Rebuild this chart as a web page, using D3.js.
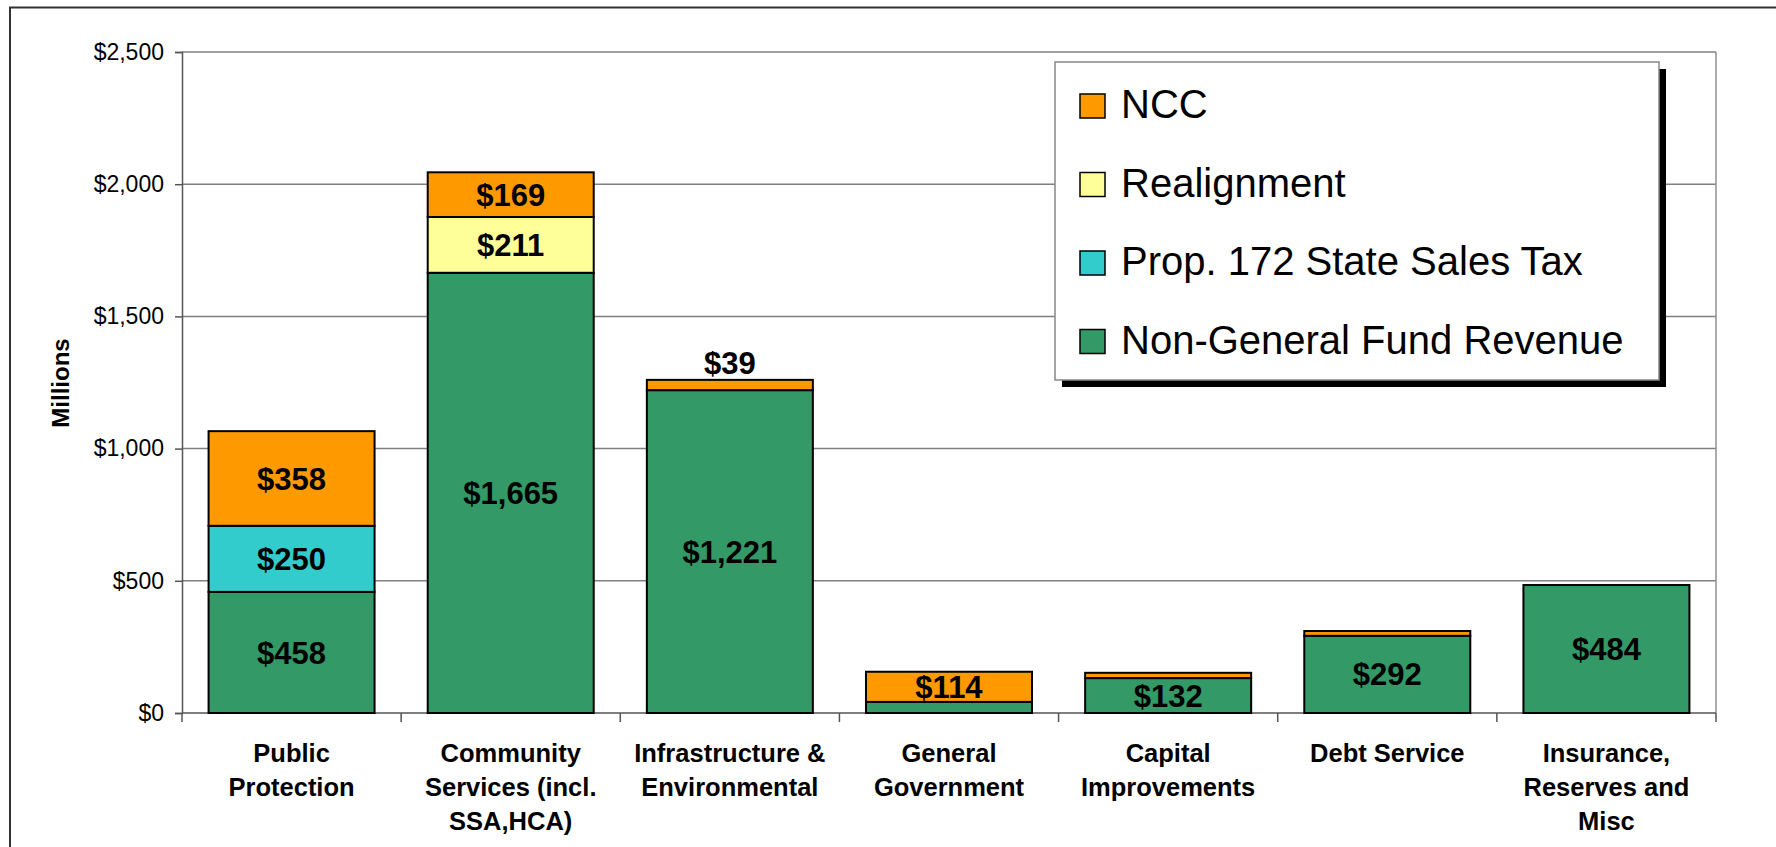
<!DOCTYPE html>
<html>
<head>
<meta charset="utf-8">
<script src="https://cdn.jsdelivr.net/npm/d3@7"></script>
<style>
  html, body { margin: 0; background: #fff; overflow: hidden; }
  svg { display: block; font-family: "Liberation Sans", Arial, sans-serif; }
</style>
</head>
<body>
<svg id="chart" width="1776" height="847"></svg>
<script>
// categories (line breaks as in the original axis labels)
var categories = [
    "Public\nProtection",
    "Community\nServices (incl.\nSSA,HCA)",
    "Infrastructure &\nEnvironmental",
    "General\nGovernment",
    "Capital\nImprovements",
    "Debt Service",
    "Insurance,\nReserves and\nMisc"
];

// series values, in millions (bottom of stack first)
var nonGeneralFund = [458, 1665, 1221, 42, 132, 292, 484];
var prop172        = [250, 0, 0, 0, 0, 0, 0];
var realignment    = [0, 211, 0, 0, 0, 0, 0];
var ncc            = [358, 169, 39, 114, 20, 18, 0];

// which segments carry a value label in the original
var nonGeneralFundLabel = [true, true, true, false, true, true, true];
var prop172Label        = [true, false, false, false, false, false, false];
var realignmentLabel    = [false, true, false, false, false, false, false];
var nccLabel            = [true, true, true, true, false, false, false];

var yTicks = [0, 500, 1000, 1500, 2000, 2500];

var seriesNames = ["Non-General Fund Revenue", "Prop. 172 State Sales Tax", "Realignment", "NCC"];
var seriesColors = ["#339966", "#33CCCC", "#FFFF99", "#FF9900"];

var seriesVals = [nonGeneralFund, prop172, realignment, ncc];
var seriesLabels = [nonGeneralFundLabel, prop172Label, realignmentLabel, nccLabel];

var svg = d3.select("#chart");

var plot = {left: 182, right: 1716, top: 52, bottom: 713};

// outer chart frame (only the left and top edges fall inside the picture)
svg.append("path")
    .attr("d", "M10,847 L10,7.5 L1776,7.5")
    .attr("fill", "none")
    .attr("stroke", "#333")
    .attr("stroke-width", 2);

var x = d3.scaleBand()
    .domain(categories)
    .range([plot.left, plot.right])
    .paddingInner(0.2425)
    .paddingOuter(0.12125);

var y = d3.scaleLinear()
    .domain([0, 2500])
    .range([plot.bottom, plot.top]);

// table for d3.stack
var table = categories.map(function(c, i) {
    var row = {cat: c, idx: i};
    seriesNames.forEach(function(s, k) { row[s] = seriesVals[k][i]; });
    return row;
});

var stack = d3.stack().keys(seriesNames);
var stacked = stack(table);

// gridlines
svg.append("g")
    .selectAll("line")
    .data(yTicks.slice(1))
    .enter().append("line")
    .attr("x1", plot.left).attr("x2", plot.right)
    .attr("y1", function(d) { return y(d); })
    .attr("y2", function(d) { return y(d); })
    .attr("stroke", "#808080")
    .attr("stroke-width", 1.5);

// plot area right border
svg.append("line")
    .attr("x1", plot.right).attr("x2", plot.right)
    .attr("y1", plot.top).attr("y2", plot.bottom)
    .attr("stroke", "#909090")
    .attr("stroke-width", 1.5);

// y axis
var yAxis = svg.append("g")
    .attr("transform", "translate(" + plot.left + ",0)")
    .call(d3.axisLeft(y)
        .tickValues(yTicks)
        .tickSize(7)
        .tickPadding(11)
        .tickFormat(function(d) { return "$" + d3.format(",")(d); }));
yAxis.select(".domain").attr("stroke", "#555").attr("stroke-width", 1.5);
yAxis.selectAll(".tick line").attr("stroke", "#555").attr("stroke-width", 1.5);
yAxis.selectAll(".tick text")
    .attr("font-size", 23)
    .attr("fill", "#000")
    .style("font-family", "'Liberation Sans', Arial, sans-serif");

// x axis baseline and category ticks
var step = x.step();
svg.append("line")
    .attr("x1", plot.left).attr("x2", plot.right)
    .attr("y1", plot.bottom).attr("y2", plot.bottom)
    .attr("stroke", "#555")
    .attr("stroke-width", 1.5);

svg.append("g")
    .selectAll("line")
    .data(d3.range(categories.length + 1))
    .enter().append("line")
    .attr("x1", function(i) { return plot.left + i * step; })
    .attr("x2", function(i) { return plot.left + i * step; })
    .attr("y1", plot.bottom).attr("y2", plot.bottom + 9)
    .attr("stroke", "#555")
    .attr("stroke-width", 1.5);

// category labels
svg.append("g")
    .selectAll("text")
    .data(categories)
    .enter().append("text")
    .attr("text-anchor", "middle")
    .attr("font-size", 25.5)
    .attr("font-weight", "bold")
    .attr("fill", "#000")
    .each(function(d) {
        var t = d3.select(this);
        var cx = x(d) + x.bandwidth() / 2;
        d.split("\n").forEach(function(line, j) {
            t.append("tspan")
                .attr("x", cx)
                .attr("y", 762 + j * 34)
                .text(line);
        });
    });

// bars
var layers = svg.append("g")
    .selectAll("g")
    .data(stacked)
    .enter().append("g")
    .attr("fill", function(d, k) { return seriesColors[k]; });

layers.selectAll("rect")
    .data(function(d) { return d.filter(function(p) { return p[1] - p[0] > 0; }); })
    .enter().append("rect")
    .attr("x", function(p) { return x(p.data.cat); })
    .attr("width", x.bandwidth())
    .attr("y", function(p) { return y(p[1]); })
    .attr("height", function(p) { return y(p[0]) - y(p[1]); })
    .attr("stroke", "#000")
    .attr("stroke-width", 2);

// value labels
var labelSize = 31;
var labelData = [];
stacked.forEach(function(layer, k) {
    layer.forEach(function(p) {
        var i = p.data.idx;
        if (!seriesLabels[k][i]) return;
        var v = seriesVals[k][i];
        var top = y(p[1]), bot = y(p[0]);
        var yy;
        if (bot - top > labelSize * 0.8) {
            yy = (top + bot) / 2 + labelSize * 0.358;
        } else {
            // too thin to hold the label: sit it on top of the bar
            yy = top - 6;
        }
        labelData.push({x: x(p.data.cat) + x.bandwidth() / 2, y: yy, text: "$" + d3.format(",")(v)});
    });
});

svg.append("g")
    .selectAll("text")
    .data(labelData)
    .enter().append("text")
    .attr("x", function(d) { return d.x; })
    .attr("y", function(d) { return d.y; })
    .attr("text-anchor", "middle")
    .attr("font-size", labelSize)
    .attr("font-weight", "bold")
    .attr("fill", "#000")
    .text(function(d) { return d.text; });

// y axis title
svg.append("text")
    .attr("transform", "translate(69,383) rotate(-90)")
    .attr("text-anchor", "middle")
    .attr("font-size", 24)
    .attr("font-weight", "bold")
    .attr("fill", "#000")
    .text("Millions");

// legend
var legend = {x: 1055, y: 62, w: 604, h: 318};
svg.append("rect")
    .attr("x", legend.x + 7).attr("y", legend.y + 7)
    .attr("width", legend.w).attr("height", legend.h)
    .attr("fill", "#000");
svg.append("rect")
    .attr("x", legend.x).attr("y", legend.y)
    .attr("width", legend.w).attr("height", legend.h)
    .attr("fill", "#fff")
    .attr("stroke", "#888")
    .attr("stroke-width", 1.5);

var legendOrder = [3, 2, 1, 0];
var li = svg.append("g")
    .selectAll("g")
    .data(legendOrder)
    .enter().append("g")
    .attr("transform", function(k, j) { return "translate(" + (legend.x + 25) + "," + (legend.y + 56 + j * 78.5) + ")"; });

li.append("rect")
    .attr("x", 0).attr("y", -24)
    .attr("width", 25).attr("height", 24)
    .attr("fill", function(k) { return seriesColors[k]; })
    .attr("stroke", "#000")
    .attr("stroke-width", 1.5);

li.append("text")
    .attr("x", 41).attr("y", 0)
    .attr("font-size", 40)
    .attr("fill", "#000")
    .text(function(k) { return seriesNames[k]; });
</script>
</body>
</html>
